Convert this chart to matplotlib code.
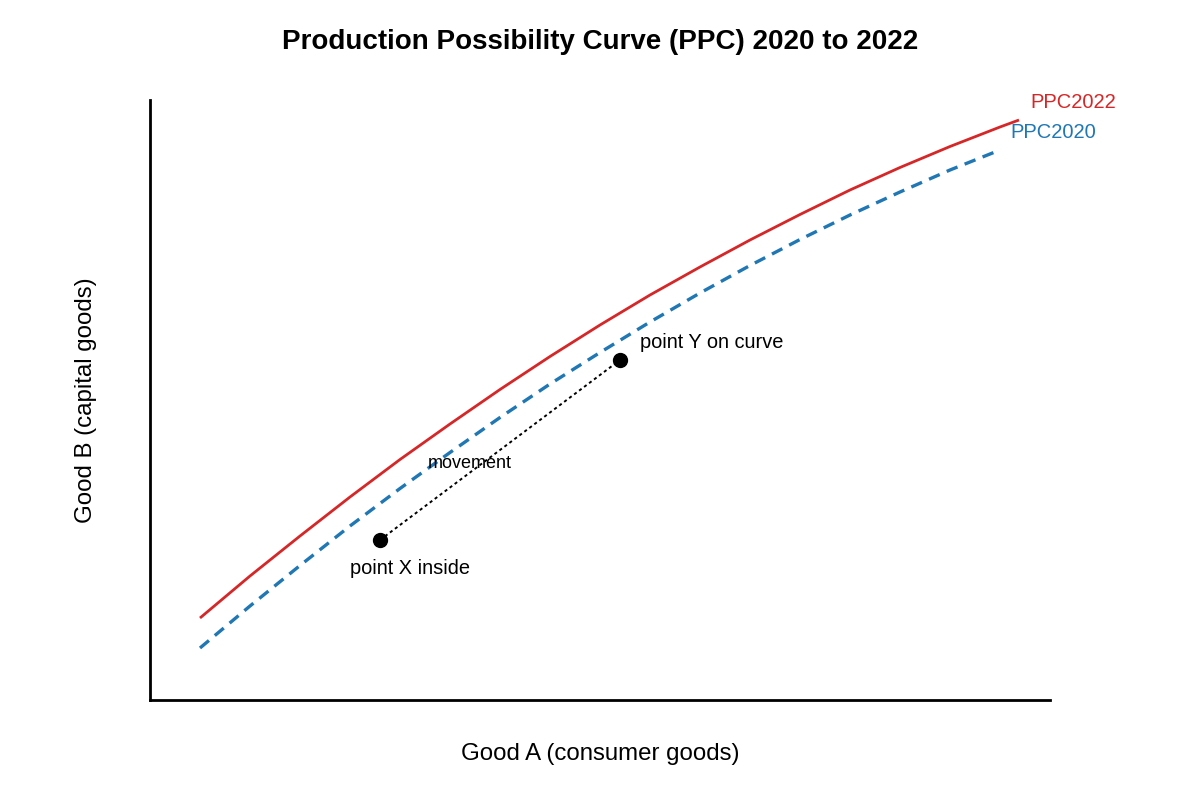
import matplotlib.pyplot as plt

plt.rcParams['font.family'] = ['Liberation Sans', 'DejaVu Sans']

# curve readings (Good A, Good B)
good_a_2020 = [1, 2, 3, 4, 5, 6, 7, 8, 9, 10, 11, 12, 13, 14, 15, 16, 17]
good_b_2020 = [1.04, 1.88, 2.69, 3.48, 4.23, 4.95, 5.65, 6.32, 6.95, 7.56,
               8.14, 8.69, 9.21, 9.70, 10.16, 10.60, 11.00]
good_a_2022 = [1, 2, 3, 4, 5, 6, 7, 8, 9, 10, 11, 12, 13, 14, 15, 16, 17, 17.38]
good_b_2022 = [1.64, 2.48, 3.28, 4.06, 4.81, 5.52, 6.21, 6.87, 7.50, 8.10,
               8.66, 9.20, 9.71, 10.20, 10.65, 11.07, 11.46, 11.60]

point_x = (4.6, 3.2)
point_y = (9.4, 6.8)


def main():
    fig = plt.figure(figsize=(12, 8), dpi=100)
    ax = fig.add_axes((0.125, 0.125, 0.75, 0.75))

    ax.plot(good_a_2022, good_b_2022, color='#d62728', lw=2.0, solid_capstyle='butt')
    ax.plot(good_a_2020, good_b_2020, color='#1f77b4', lw=2.4, ls=(0, (3.5, 2.3)))

    ax.plot([point_x[0], point_y[0]], [point_x[1], point_y[1]], color='black',
            lw=1.4, ls=(0, (1.6, 1.6)))
    ax.plot([point_x[0], point_y[0]], [point_x[1], point_y[1]], 'o', color='black', ms=10)

    ax.text(point_x[0] + 0.6, point_x[1] - 0.56, 'point X inside', fontsize=14.4,
            ha='center', va='center')
    ax.text(point_y[0] + 0.4, point_y[1] + 0.34, 'point Y on curve', fontsize=14.4,
            ha='left', va='center')
    ax.text(6.4, 4.72, 'movement', fontsize=13, ha='center', va='center')

    ax.text(17.6, 11.94, 'PPC2022', fontsize=14.5, color='#d62728', ha='left', va='center')
    ax.text(17.2, 11.34, 'PPC2020', fontsize=14.5, color='#1f77b4', ha='left', va='center')

    ax.set_xlim(0, 18)
    ax.set_ylim(0, 12)
    ax.set_xticks([])
    ax.set_yticks([])
    ax.spines['top'].set_visible(False)
    ax.spines['right'].set_visible(False)
    ax.spines['left'].set_linewidth(2)
    ax.spines['bottom'].set_linewidth(2)

    ax.set_xlabel('Good A (consumer goods)', fontsize=17.3, labelpad=31)
    ax.set_ylabel('Good B (capital goods)', fontsize=17.3, labelpad=38)
    fig.text(0.5, 0.947, 'Production Possibility Curve (PPC) 2020 to 2022',
             fontsize=20, fontweight='bold', ha='center', va='center')

    fig.savefig('out.png', dpi=100, facecolor='white')
    plt.close(fig)


if __name__ == "__main__":
    main()
